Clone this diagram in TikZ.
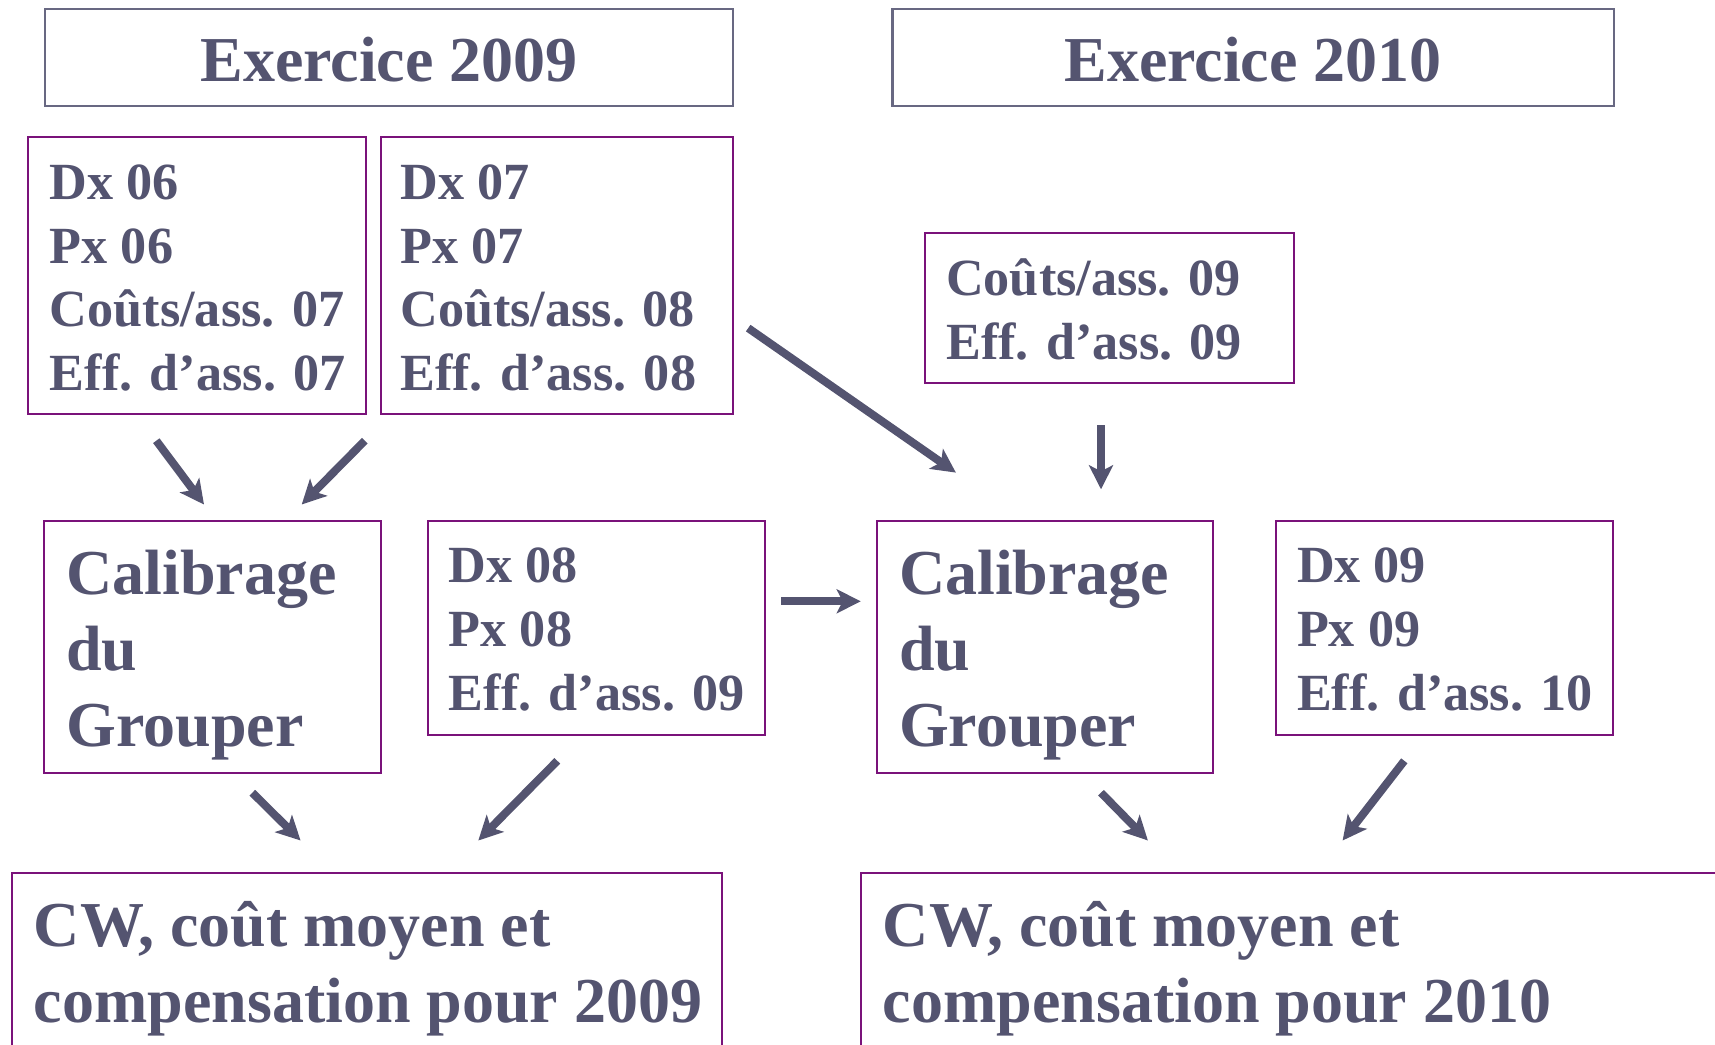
\documentclass[tikz,border=0pt]{standalone}
\usepackage{fontspec}
\setmainfont{Liberation Serif}
\usetikzlibrary{arrows.meta,fit}
\definecolor{txtc}{HTML}{545470}
\definecolor{hdrc}{HTML}{686882}
\definecolor{brdc}{HTML}{7A127A}
\newcommand\stackl[1]{\vtop{\halign{##\hfil\cr #1\crcr}}}
\begin{document}
\begin{tikzpicture}[x=0.5pt,y=-0.5pt,
  hdrbox/.style={draw=hdrc, line width=1.1pt, inner sep=0pt},
  hdrtxt/.style={text=txtc, font=\fontsize{32}{38}\selectfont\bfseries, anchor=base, inner sep=0pt},
  cbox/.style={draw=brdc, line width=1pt, inner sep=0pt},
  smalltxt/.style={anchor=base west, inner sep=0pt, text=txtc, font=\fontsize{26.1}{31.9}\selectfont\bfseries},
  bigtxt/.style={anchor=base west, inner sep=0pt, text=txtc, font=\fontsize{32}{38}\selectfont\bfseries},
  arr/.style={draw=txtc, line width=4pt, -{Stealth[length=12pt, width=12pt, inset=3pt]}}]
\useasboundingbox (0,0) rectangle (1715,1045);
\clip (0,0) rectangle (1715,1045);
% headers
\node[hdrbox, fit={(44.6,9.3) (733,105.7)}] (h09) {};
\node[hdrtxt] (h09t) at (389,81) {Exercice 2009};
\node[hdrbox, fit={(892.5,9.3) (1614,105.7)}] (h10) {};
\node[hdrtxt] (h10t) at (1253,81) {Exercice 2010};
% content boxes
\node[cbox, fit={(28.1,136.7) (365.5,414.3)}] (dx06) {};
\node[smalltxt] (dx06t) at (49.5,199.3) {\stackl{Dx 06\cr Px 06\cr Coûts/ass. 07\cr Eff. d’ass. 07}};
\node[cbox, fit={(380.5,136.7) (733,414.3)}] (dx07) {};
\node[smalltxt] (dx07t) at (400,199.3) {\stackl{Dx 07\cr Px 07\cr Coûts/ass. 08\cr Eff. d’ass. 08}};
\node[cbox, fit={(924.5,232.7) (1293.5,383.3)}] (c09) {};
\node[smalltxt] (c09t) at (945.8,295.7) {\stackl{Coûts/ass. 09\cr Eff. d’ass. 09}};
\node[cbox, fit={(43.9,520.8) (380.7,772.7)}] (cal1) {};
\node[bigtxt] (cal1t) at (66,594.2) {\stackl{Calibrage\cr du\cr Grouper}};
\node[cbox, fit={(428.4,520.8) (765.2,734.9)}] (dx08) {};
\node[smalltxt] (dx08t) at (448.5,582.6) {\stackl{Dx 08\cr Px 08\cr Eff. d’ass. 09}};
\node[cbox, fit={(876.5,520.8) (1213,772.7)}] (cal2) {};
\node[bigtxt] (cal2t) at (898.6,594.2) {\stackl{Calibrage\cr du\cr Grouper}};
\node[cbox, fit={(1276.4,520.8) (1613.4,734.9)}] (dx09) {};
\node[smalltxt] (dx09t) at (1296.6,582.6) {\stackl{Dx 09\cr Px 09\cr Eff. d’ass. 10}};
\node[cbox, fit={(12.1,873.2) (721.9,1100)}] (cw09) {};
\node[bigtxt] (cw09t) at (33.5,946.1) {\stackl{CW, coût moyen et\cr compensation pour 2009}};
\node[cbox, fit={(861,873.2) (1760,1100)}] (cw10) {};
\node[bigtxt] (cw10t) at (882.5,946.1) {\stackl{CW, coût moyen et\cr compensation pour 2010}};
% arrow end points
\coordinate (a1s) at (156.3,440.7); \coordinate (a1e) at (204,504.5);
\coordinate (a2s) at (364.8,440.7); \coordinate (a2e) at (301.7,504.5);
\coordinate (a3s) at (748.2,328.1); \coordinate (a3e) at (955.9,472.6);
\coordinate (a4s) at (1101,425);    \coordinate (a4e) at (1101,489.3);
\coordinate (a5s) at (781,601.3);   \coordinate (a5e) at (860.7,601.3);
\coordinate (a6s) at (252.3,792.7); \coordinate (a6e) at (300.6,840.5);
\coordinate (a7s) at (557.3,760.8); \coordinate (a7e) at (478.3,840.5);
\coordinate (a8s) at (1101,792.7);  \coordinate (a8e) at (1147.9,840.5);
\coordinate (a9s) at (1404.3,760.8); \coordinate (a9e) at (1342.6,840.5);
\foreach \a in {a1,a2,a3,a4,a5,a6,a7,a8,a9}{\draw[arr] (\a s) -- (\a e);}
\end{tikzpicture}
\end{document}
